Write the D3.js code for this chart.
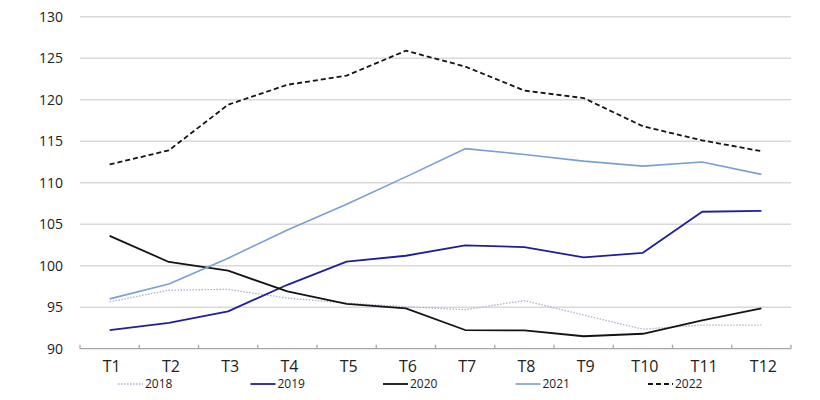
<!DOCTYPE html>
<html>
<head>
<meta charset="utf-8">
<script src="https://cdn.jsdelivr.net/npm/d3@7"></script>
<style>
  body { margin: 0; background: #fff; }
  svg { display: block; font-family: "Open Sans", "Liberation Sans", sans-serif; }
</style>
</head>
<body>
<svg id="chart" width="820" height="400"></svg>
<script>
const categories = ["T1","T2","T3","T4","T5","T6","T7","T8","T9","T10","T11","T12"];
const yTicks = [90, 95, 100, 105, 110, 115, 120, 125, 130];
const years = ["2018", "2019", "2020", "2021", "2022"];
const s2018 = [95.65, 97.05, 97.15, 96.1, 95.5, 95.05, 94.7, 95.8, 94.05, 92.35, 92.85, 92.85];
const s2019 = [92.25, 93.1, 94.5, 97.7, 100.5, 101.2, 102.45, 102.25, 101.0, 101.55, 106.5, 106.6];
const s2020 = [103.6, 100.45, 99.4, 96.9, 95.4, 94.85, 92.25, 92.2, 91.5, 91.8, 93.4, 94.85];
const s2021 = [96.0, 97.8, 100.9, 104.3, 107.4, 110.7, 114.1, 113.4, 112.6, 112.0, 112.5, 111.0];
const s2022 = [112.2, 113.9, 119.4, 121.8, 122.9, 125.9, 124.0, 121.1, 120.2, 116.8, 115.1, 113.8];

const seriesValues = [s2018, s2019, s2020, s2021, s2022];
const styles = [
  { color: "#a9b3cc", width: 1.3, dash: "1.5,1.5" },
  { color: "#1f1f9c", width: 1.8, dash: null },
  { color: "#141414", width: 1.8, dash: null },
  { color: "#7b9fd2", width: 1.6, dash: null },
  { color: "#141414", width: 1.8, dash: "5,3" }
];

const svg = d3.select("#chart");
const mLeft = 80, mRight = 791, mTop = 16.7, mBottom = 348.7;

const x = d3.scaleBand().domain(categories).range([mLeft, mRight]).padding(0);
const y = d3.scaleLinear().domain([90, 130]).range([mBottom, mTop]);

// gridlines
svg.append("g").selectAll("line").data(yTicks.filter(t => t > 90)).join("line")
  .attr("x1", mLeft).attr("x2", mRight)
  .attr("y1", d => y(d)).attr("y2", d => y(d))
  .attr("stroke", "#d9d9d9").attr("stroke-width", 1.5);

// y labels
svg.append("g").selectAll("text").data(yTicks).join("text")
  .attr("x", 63).attr("y", d => y(d)).attr("dy", "0.35em")
  .attr("text-anchor", "end").attr("font-size", 14).attr("fill", "#222")
  .text(d => d);

// x axis line and ticks (category boundaries, inward)
const boundaries = categories.map(c => x(c)).concat([mRight]);
svg.append("line").attr("x1", mLeft).attr("x2", mRight)
  .attr("y1", mBottom).attr("y2", mBottom)
  .attr("stroke", "#a6a6a6").attr("stroke-width", 1.3);
svg.append("g").selectAll("line").data(boundaries).join("line")
  .attr("x1", d => d).attr("x2", d => d)
  .attr("y1", mBottom).attr("y2", mBottom - 4)
  .attr("stroke", "#a6a6a6").attr("stroke-width", 1.3);

// x labels
svg.append("g").selectAll("text").data(categories).join("text")
  .attr("x", d => x(d) + x.bandwidth() / 2 + 2).attr("y", 366).attr("dy", "0.35em")
  .attr("text-anchor", "middle").attr("font-size", 16).attr("fill", "#222")
  .text(d => d);

// lines
const line = d3.line()
  .x((d, i) => x(categories[i]) + x.bandwidth() / 2)
  .y(d => y(d));

seriesValues.forEach((vals, k) => {
  const st = styles[k];
  const p = svg.append("path").datum(vals)
    .attr("d", line).attr("fill", "none")
    .attr("stroke", st.color).attr("stroke-width", st.width)
    .attr("stroke-linejoin", "round");
  if (st.dash) p.attr("stroke-dasharray", st.dash);
});

// legend
const legend = svg.append("g");
const lx = d3.scalePoint().domain(years).range([118, 648]);
years.forEach((yr, k) => {
  const st = styles[k];
  const g = legend.append("g").attr("transform", `translate(${lx(yr)},384)`);
  const l = g.append("line").attr("x1", 0).attr("x2", 25).attr("y1", 0).attr("y2", 0)
    .attr("stroke", st.color).attr("stroke-width", st.width);
  if (st.dash) l.attr("stroke-dasharray", st.dash);
  g.append("text").attr("x", 27).attr("y", 0).attr("dy", "0.35em")
    .attr("font-size", 12).attr("fill", "#222").text(yr);
});
</script>
</body>
</html>
